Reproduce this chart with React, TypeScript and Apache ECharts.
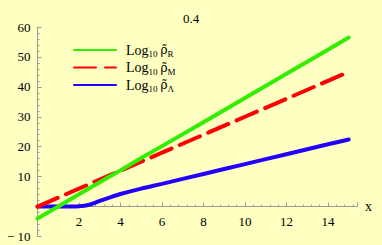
import React, { useEffect, useRef } from "react";
import * as echarts from "echarts";

const xs = [0, 1, 2, 2.5, 3, 3.5, 4, 5, 6, 8, 10, 12, 14, 15];
const rhoR = [-4, 0, 4.1, 6.1, 8.1, 10.1, 12.1, 16.2, 20.2, 28.2, 36.3, 44.4, 52.4, 56.5];
const rhoM = [0, 3, 6, 7.5, 9, 10.5, 12, 15, 18, 24, 30, 36, 42, 45];
const rhoL = [0, 0, 0.1, 0.6, 1.9, 3.1, 4.2, 6.0, 7.6, 10.9, 14.2, 17.5, 20.8, 22.4];
const seriesNames = ["R", "M", "Λ"];
const xTicks = [2, 4, 6, 8, 10, 12, 14];
const yTicks = [-10, 10, 20, 30, 40, 50, 60];

const FONT = "Liberation Serif";

export default function App() {
  const ref = useRef<HTMLDivElement>(null);
  useEffect(() => {
    const chart = echarts.init(ref.current!, null, { renderer: "svg" });
    const mk = (arr: number[]) => xs.map((x, i) => [x, arr[i]]);
    const colors = ["#33ee00", "#ff0000", "#2200ff"];
    const datas = [rhoR, rhoM, rhoL];
    const top = 27;
    const bottom = 8.5;
    const yMin = -10;
    const yMax = 60;
    const h = 245 - top - bottom;
    const zeroOffset = -(h * (0 - yMin)) / (yMax - yMin);
    chart.setOption({
      animation: false,
      backgroundColor: "#ffffc2",
      textStyle: { fontFamily: FONT },
      title: {
        text: "0.4",
        left: "center",
        top: 7,
        textStyle: { fontFamily: FONT, fontSize: 13, fontWeight: "normal", color: "#000" },
      },
      legend: {
        orient: "vertical",
        left: 68,
        top: 38,
        itemWidth: 42,
        itemHeight: 14,
        itemGap: 2,
        itemStyle: { opacity: 0 },
        data: seriesNames,
        formatter: (n: string) => `{a|Log}{s|10} {r|ρ̃}{s|${n}}`,
        textStyle: {
          color: "#000",
          fontFamily: FONT,
          padding: [0, 0, 0, 5],
          rich: {
            a: { fontFamily: FONT, fontSize: 14, lineHeight: 17, color: "#000" },
            r: { fontFamily: "DejaVu Serif", fontSize: 12, lineHeight: 17, color: "#000" },
            s: { fontFamily: FONT, fontSize: 9, lineHeight: 9, verticalAlign: "bottom", color: "#000" },
          },
        },
      },
      grid: { left: 37.5, right: 25, top, bottom, containLabel: false, outerBoundsMode: "none" },
      xAxis: {
        type: "value",
        min: 0,
        max: 15.4,
        interval: 2,
        position: "bottom",
        offset: zeroOffset,
        name: "x",
        nameGap: 8,
        nameTextStyle: { fontFamily: FONT, fontSize: 14, color: "#000", verticalAlign: "middle" },
        axisLine: { onZero: false, lineStyle: { color: "#999", width: 1 } },
        axisTick: { inside: true, length: 4, lineStyle: { color: "#999" } },
        minorTick: { show: true, splitNumber: 5, length: 2, lineStyle: { color: "#999" } },
        splitLine: { show: false },
        axisLabel: {
          fontFamily: FONT,
          fontSize: 13,
          color: "#000",
          margin: 8,
          showMaxLabel: false,
          formatter: (v: number) => (xTicks.includes(v) ? String(v) : ""),
        },
      },
      yAxis: {
        type: "value",
        min: yMin,
        max: yMax,
        interval: 10,
        axisLine: { show: true, lineStyle: { color: "#999", width: 1 } },
        axisTick: { show: true, inside: true, length: 4, lineStyle: { color: "#999" } },
        minorTick: { show: true, splitNumber: 5, length: 2, lineStyle: { color: "#999" } },
        splitLine: { show: false },
        axisLabel: {
          fontFamily: FONT,
          fontSize: 13,
          color: "#000",
          margin: 7,
          formatter: (v: number) => (yTicks.includes(v) ? (v < 0 ? "− " + Math.abs(v) : String(v)) : ""),
        },
      },
      series: seriesNames.map((n, i) => ({
        name: n,
        type: "line",
        data: mk(datas[i]),
        showSymbol: false,
        symbol: "none",
        smooth: i === 2 ? 0.3 : false,
        color: colors[i],
        lineStyle: {
          color: colors[i],
          width: 4,
          cap: "round",
          type: i === 1 ? [22, 9] : "solid",
        },
        z: 3 - i,
      })),
    });
    return () => chart.dispose();
  }, []);
  return <div ref={ref} style={{ width: 382, height: 245, position: "absolute", left: 0, top: 0 }} />;
}
